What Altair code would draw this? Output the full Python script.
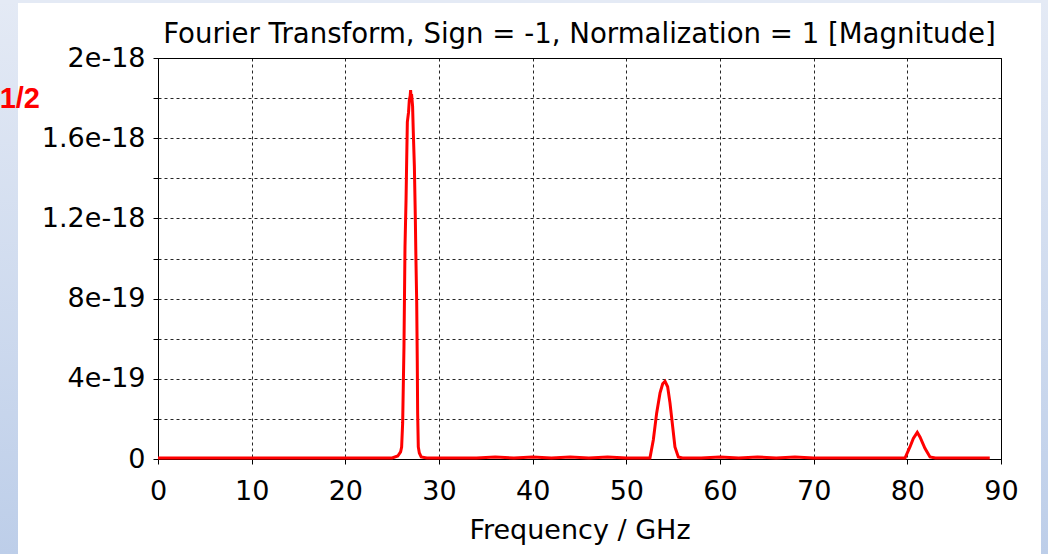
import altair as alt
import pandas as pd

# Frequency (GHz) and magnitude (in units of 1e-19)
freq = [0, 5, 10, 15, 20, 24, 25.0, 25.6, 25.9, 26.01, 26.12, 26.26, 26.37, 26.48, 26.55,
        26.62, 26.75, 26.83, 26.92, 26.97, 27.02, 27.07, 27.18, 27.25, 27.37, 27.47,
        27.54, 27.62, 27.68, 27.72, 27.79, 27.9, 28.1, 28.7, 30, 34, 36, 38, 40, 42,
        44, 46, 48, 50, 52, 52.52, 52.88, 53.24, 53.6, 53.88, 54.13, 54.41, 54.66,
        54.95, 55.19, 55.55, 56, 58, 60, 62, 64, 66, 68, 70, 72, 75, 78, 79.75, 80.28,
        80.64, 81.06, 81.35, 81.88, 82.42, 83, 86, 88.8]
mag_e19 = [0.05, 0.05, 0.05, 0.05, 0.05, 0.05, 0.05, 0.15, 0.35, 0.6, 1.8, 5.6, 10.6, 12.9,
           14.9, 16.8, 17.3, 17.9, 18.1, 18.4, 18.0, 18.2, 17.6, 16.4, 14.6, 12.1, 9.9,
           7.8, 4.9, 2.3, 0.6, 0.3, 0.1, 0.05, 0.05, 0.05, 0.1, 0.05, 0.1, 0.05, 0.1,
           0.05, 0.1, 0.05, 0.05, 0.05, 0.95, 2.3, 3.3, 3.75, 3.87, 3.6, 2.8, 1.6, 0.6,
           0.1, 0.05, 0.05, 0.1, 0.05, 0.1, 0.05, 0.1, 0.05, 0.05, 0.05, 0.05, 0.05, 0.6,
           1.03, 1.33, 1.1, 0.53, 0.1, 0.05, 0.05, 0.05]

y_ticks = [0, 2e-19, 4e-19, 6e-19, 8e-19, 1e-18, 1.2e-18, 1.4e-18, 1.6e-18, 1.8e-18, 2e-18]
x_ticks = [0, 10, 20, 30, 40, 50, 60, 70, 80, 90]

title_text = "Fourier Transform, Sign = -1, Normalization = 1 [Magnitude]"
x_title = "Frequency / GHz"
page_label = "1/2"

df = pd.DataFrame({"freq": freq, "mag": [v * 1e-19 for v in mag_e19]})

FONT = "DejaVu Sans"

blue_grad = alt.LinearGradient(
    gradient="linear",
    stops=[alt.GradientStop(offset=0, color="#e4eaf5"),
           alt.GradientStop(offset=1, color="#bdcee9")],
    x1=0, x2=0, y1=0, y2=1,
)

one = alt.Data(values=[{"a": 1}])

left_strip = alt.Chart(one).mark_rect(color=blue_grad).encode(
    x=alt.value(-158), x2=alt.value(-140), y=alt.value(-58), y2=alt.value(496))
right_strip = alt.Chart(one).mark_rect(color=blue_grad).encode(
    x=alt.value(883), x2=alt.value(890), y=alt.value(-58), y2=alt.value(496))
top_strip = alt.Chart(one).mark_rect(color="#e4eaf5").encode(
    x=alt.value(-158), x2=alt.value(890), y=alt.value(-58), y2=alt.value(-55))

page = alt.Chart(one).mark_text(
    align="right", baseline="alphabetic", font="Liberation Sans", fontSize=29,
    fontWeight="bold", color="#ff0000"
).encode(x=alt.value(-118), y=alt.value(50), text=alt.value(page_label))

title = alt.Chart(one).mark_text(
    align="center", baseline="alphabetic", font=FONT, fontSize=27.6, color="black"
).encode(x=alt.value(421.5), y=alt.value(-15), text=alt.value(title_text))

line = alt.Chart(df).mark_line(color="#ff0000", strokeWidth=3).encode(
    x=alt.X("freq:Q",
            scale=alt.Scale(domain=[0, 90], nice=False, zero=False),
            axis=alt.Axis(values=x_ticks, title=x_title, format="d")),
    y=alt.Y("mag:Q",
            scale=alt.Scale(domain=[0, 2e-18], nice=False),
            axis=alt.Axis(values=y_ticks, title=None,
                          labelExpr="datum.value == 0 ? '0' : (round(datum.value / 2e-19) % 2 == 1 ? '' : format(datum.value, '.2~e'))")),
)

chart = alt.layer(left_strip, right_strip, top_strip, line, page, title).properties(
    width=843, height=401,
    autosize=alt.AutoSizeParams(type="none"),
    padding={"left": 158, "top": 58, "right": 47, "bottom": 95},
    background="white",
).configure_view(
    stroke="black", strokeWidth=1, fill="white"
).configure_axis(
    labelFont=FONT, labelFontSize=27, labelColor="black",
    titleFont=FONT, titleFontSize=27, titleFontWeight="normal", titleColor="black",
    domainColor="black", domainWidth=1, tickColor="black", tickSize=5,
    grid=True, gridColor="black", gridDash=[3, 3], gridWidth=1, gridOpacity=0.85,
).configure_axisY(labelPadding=8).configure_axisX(labelPadding=14, titlePadding=13, labelFlush=False)

chart.save("out.html", embed_options={"renderer": "svg", "actions": False})
